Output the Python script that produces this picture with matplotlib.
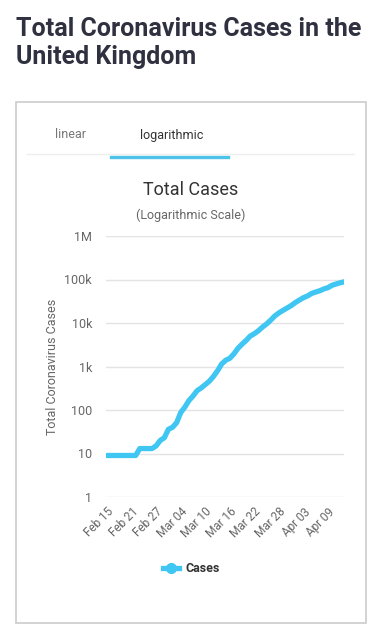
import matplotlib
import numpy as np

matplotlib.use("Agg")
import matplotlib.pyplot as plt
from matplotlib.lines import Line2D
from matplotlib.patches import Rectangle

# total cases, one value per day from Feb 15 to Apr 13
cases = [9, 9, 9, 9, 9, 9, 9, 9, 13, 13, 13, 13, 15, 20, 23, 36, 40, 51,
         87, 116, 164, 209, 278, 321, 383, 460, 590, 798, 1140, 1391, 1543,
         1950, 2626, 3269, 3983, 5018, 5683, 6650, 8077, 9529, 11658, 14543,
         17089, 19522, 22141, 25150, 29474, 33718, 38168, 41903, 47806,
         51608, 55242, 60733, 65077, 73758, 78991, 84279, 88621]
tick_days = [0, 6, 12, 18, 24, 30, 36, 42, 48, 54]
tick_labels = ["Feb 15", "Feb 21", "Feb 27", "Mar 04", "Mar 10", "Mar 16",
               "Mar 22", "Mar 28", "Apr 03", "Apr 09"]
y_ticks = [1, 10, 100, 1000, 10000, 100000, 1000000]
y_labels = ["1", "10", "100", "1k", "10k", "100k", "1M"]

W, H = 382, 640
BLUE = "#3fc6f2"
GREY = "#666666"

fig = plt.figure(figsize=(W / 100, H / 100), dpi=100)
plt.rcParams["font.family"] = ["Roboto", "DejaVu Sans"]


def fx(px):
    return px / W


def fy(py):
    return 1 - py / H


# page title, sized so the first line spans about 346 px
t1 = fig.text(fx(16), fy(29), "Total Coronavirus Cases in the", fontsize=16,
              fontweight="bold", color="#2f3140", va="center")
t2 = fig.text(fx(16), fy(57), "United Kingdom", fontsize=16,
              fontweight="bold", color="#2f3140", va="center")
renderer = fig.canvas.get_renderer()
width = t1.get_window_extent(renderer).width
fs = 16 * 346 / width
t1.set_fontsize(fs)
t2.set_fontsize(fs)

# card
fig.patches.append(Rectangle((fx(16), fy(623)), fx(350), (623 - 102) / H,
                             transform=fig.transFigure, fill=False,
                             edgecolor="#cccccc", linewidth=1.2))

# tabs
fig.text(fx(70), fy(135), "linear", fontsize=9, color="#777777",
         ha="center", va="center")
fig.text(fx(172), fy(135), "logarithmic", fontsize=9, color="#333333",
         ha="center", va="center")
fig.lines.append(Line2D([fx(27), fx(354)], [fy(154), fy(154)],
                        transform=fig.transFigure, color="#eeeeee", lw=1))
fig.lines.append(Line2D([fx(111), fx(228)], [fy(157), fy(157)],
                        transform=fig.transFigure, color="#4ec3ea", lw=2.4))

# chart title
fig.text(fx(191), fy(190), "Total Cases", fontsize=13, color="#333333",
         ha="center", va="center")
fig.text(fx(191), fy(215), "(Logarithmic Scale)", fontsize=9, color=GREY,
         ha="center", va="center")

ax = fig.add_axes([fx(106), fy(497), fx(238), (497 - 236) / H])
days = np.arange(len(cases))
ax.plot(days, cases, color=BLUE, lw=3.8, solid_capstyle="round",
        solid_joinstyle="round", zorder=3)
ax.set_yscale("log")
ax.set_ylim(1, 1e6)
ax.set_xlim(-0.25, 57.9)
ax.set_yticks(y_ticks)
ax.set_yticklabels(y_labels)
ax.minorticks_off()
ax.set_xticks(tick_days)
ax.set_xticklabels(tick_labels, rotation=45, ha="right",
                   rotation_mode="anchor")
ax.tick_params(axis="both", length=0, labelsize=9, labelcolor=GREY)
ax.tick_params(axis="x", pad=6, labelsize=8.5)
ax.tick_params(axis="y", pad=10)
ax.grid(axis="y", color="#e3e3e3", lw=1)
ax.set_axisbelow(True)
for s in ax.spines.values():
    s.set_visible(False)
ax.set_ylabel("Total Coronavirus Cases", fontsize=9, color=GREY,
              labelpad=4)

# legend
fig.lines.append(Line2D([fx(163), fx(179)], [fy(568), fy(568)],
                        transform=fig.transFigure, color=BLUE, lw=3.8))
fig.lines.append(Line2D([fx(171)], [fy(568)], transform=fig.transFigure,
                        color=BLUE, marker="o", markersize=7, lw=0))
fig.text(fx(185), fy(568), "Cases", fontsize=9, fontweight="bold",
         color="#333333", va="center")

fig.savefig("out.png", dpi=100)
plt.close(fig)
